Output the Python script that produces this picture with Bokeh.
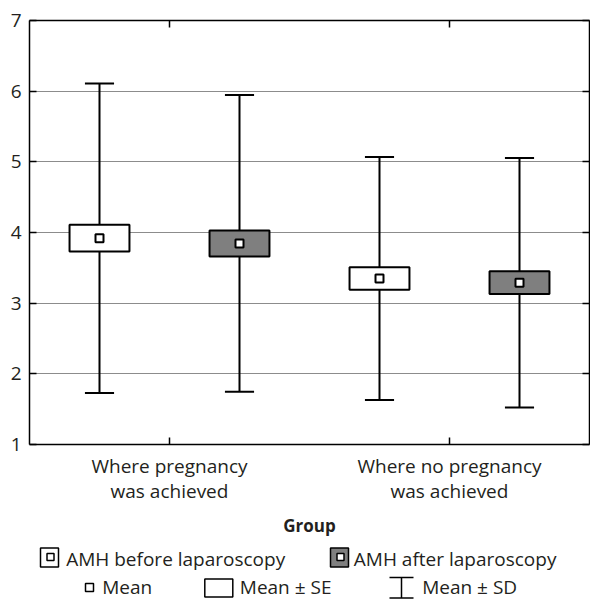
from bokeh.plotting import figure
from bokeh.models import Range1d, FixedTicker, LinearAxis, ColumnDataSource
from bokeh.layouts import column
from bokeh.embed import file_html
from bokeh.resources import INLINE
from bokeh.core.properties import value

# ---------------- data ----------------
groups = ["Where pregnancy\nwas achieved", "Where no pregnancy\nwas achieved"]
series = ["AMH before laparoscopy", "AMH after laparoscopy"]
series_fill = ["#ffffff", "#7f7f7f"]
mean_before = [3.92, 3.35]
mean_after = [3.845, 3.29]
se_before = [0.19, 0.16]
se_after = [0.185, 0.16]
sd_before = [2.19, 1.72]
sd_after = [2.10, 1.765]
y_ticks = [1, 2, 3, 4, 5, 6, 7]
legend_labels = ["Mean", "Mean \u00b1 SE", "Mean \u00b1 SD"]
x_title = "Group"

FONT = "Open Sans"
TXT = "#231f20"

# ---------------- build table ----------------
means = [mean_before, mean_after]
ses = [se_before, se_after]
sds = [sd_before, sd_after]
BOX_W = 0.214
CAP_W = 0.104
rows = dict(x=[], mean=[], se_lo=[], se_hi=[], sd_lo=[], sd_hi=[], fill=[], cap_l=[], cap_r=[])
for gi in range(len(groups)):
    for si in range(len(series)):
        m = means[si][gi]
        xc = gi + 0.25 + 0.5 * si
        rows["x"].append(xc)
        rows["cap_l"].append(xc - CAP_W / 2)
        rows["cap_r"].append(xc + CAP_W / 2)
        rows["mean"].append(m)
        rows["se_lo"].append(m - ses[si][gi])
        rows["se_hi"].append(m + ses[si][gi])
        rows["sd_lo"].append(m - sds[si][gi])
        rows["sd_hi"].append(m + sds[si][gi])
        rows["fill"].append(series_fill[si])
src = ColumnDataSource(rows)

p = figure(width=590, height=540, output_backend="svg", toolbar_location=None,
           x_range=Range1d(0, 2), y_range=Range1d(1, 7),
           x_axis_location=None, y_axis_location=None,
           min_border_left=29, min_border_right=1, min_border_top=20, min_border_bottom=96)
p.frame_align = False
p.outline_line_color = None
p.xgrid.visible = False
p.ygrid.ticker = FixedTicker(ticks=y_ticks)
p.ygrid.grid_line_color = "#8c8c8c"
p.ygrid.grid_line_width = 1.2

# whiskers (Mean ± SD)
p.segment(x0="x", y0="sd_lo", x1="x", y1="sd_hi", source=src, line_color="black", line_width=2)
p.segment(x0="cap_l", y0="sd_lo", x1="cap_r", y1="sd_lo", source=src, line_color="black", line_width=2)
p.segment(x0="cap_l", y0="sd_hi", x1="cap_r", y1="sd_hi", source=src, line_color="black", line_width=2)
# boxes (Mean ± SE)
p.vbar(x="x", width=BOX_W, bottom="se_lo", top="se_hi", source=src,
       fill_color="fill", line_color="black", line_width=2)
# mean
p.scatter(x="x", y="mean", source=src, marker="square", size=8,
          fill_color="white", line_color="black", line_width=2)

def style_axis(ax, labels=True):
    ax.axis_line_color = "black"
    ax.axis_line_width = 1.5
    ax.major_tick_line_color = "black"
    ax.major_tick_line_width = 1.5
    ax.major_tick_in = 7
    ax.major_tick_out = 0
    ax.minor_tick_line_color = None
    ax.major_label_text_font = FONT
    if labels:
        ax.major_label_text_color = TXT
        ax.major_label_text_font_size = "19px"
    else:
        ax.major_label_text_color = None
        ax.major_label_text_font_size = "1px"
        ax.major_label_standoff = 0

left = LinearAxis(ticker=FixedTicker(ticks=y_ticks))
style_axis(left)
left.major_label_standoff = 8
p.add_layout(left, "left")

right = LinearAxis(ticker=FixedTicker(ticks=y_ticks))
style_axis(right, labels=False)
p.add_layout(right, "right")

gticks = [gi + 0.5 for gi in range(len(groups))]
top = LinearAxis(ticker=FixedTicker(ticks=gticks))
style_axis(top, labels=False)
p.add_layout(top, "above")

bottom = LinearAxis(ticker=FixedTicker(ticks=gticks))
style_axis(bottom)
bottom.major_label_overrides = {t: g for t, g in zip(gticks, groups)}
bottom.major_label_standoff = 8
bottom.major_label_text_line_height = 0.97
bottom.axis_label = x_title
bottom.axis_label_text_font = FONT
bottom.axis_label_text_font_style = "bold"
bottom.axis_label_text_font_size = "17px"
bottom.axis_label_text_color = TXT
bottom.axis_label_standoff = 7
p.add_layout(bottom, "below")

# ---------------- legend panel ----------------
LH = 59
lg = figure(width=590, height=LH, output_backend="svg", toolbar_location=None,
            x_range=Range1d(0, 590), y_range=Range1d(LH, 0),
            x_axis_location=None, y_axis_location=None,
            min_border=0, min_border_left=0, min_border_right=0,
            min_border_top=0, min_border_bottom=0)
lg.frame_align = False
lg.outline_line_color = None
lg.grid.visible = False

# row 1: series
row1_icon_x = [49, 339]
row1_text_x = [65.7, 353.3]
lg.rect(x=row1_icon_x, y=[17, 17], width=18, height=19, fill_color=series_fill,
        line_color="black", line_width=1.5)
lg.scatter(x=[x + 1 for x in row1_icon_x], y=[16.5, 16.5], marker="square", size=7,
           fill_color="white", line_color="black", line_width=1.5)
lg.text(x=row1_text_x, y=[18, 18], text=series, text_font=value(FONT),
        text_font_size=value("19px"), text_color=TXT, text_baseline="alphabetic",
        text_align="left")

# row 2: symbol key
lg.scatter(x=[89], y=[47], marker="square", size=8, fill_color="white",
           line_color="black", line_width=1.5)
lg.rect(x=[218.3], y=[47.5], width=28, height=18, fill_color="white",
        line_color="black", line_width=1.5)
lg.segment(x0=[389, 401, 389], y0=[37, 37, 57.5], x1=[413, 401, 413], y1=[37, 57.5, 57.5],
           line_color="black", line_width=1.5)
lg.text(x=[101.7, 239.3, 421.7], y=[46, 46, 46], text=legend_labels,
        text_font=value(FONT), text_font_size=value("19px"), text_color=TXT,
        text_baseline="alphabetic", text_align="left")

layout = column(p, lg, spacing=0)
open("out.html", "w").write(file_html(layout, INLINE))
